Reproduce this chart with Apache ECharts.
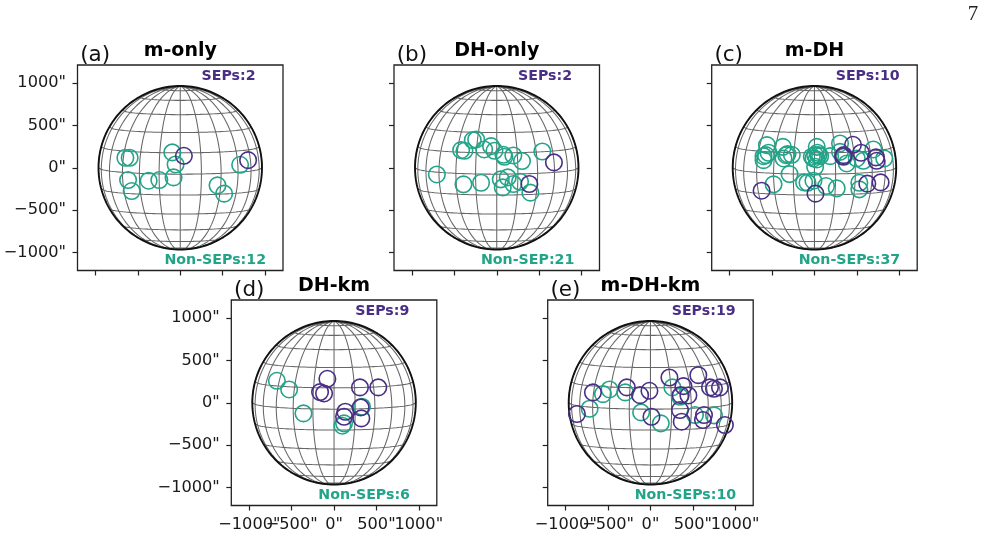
<!DOCTYPE html>
<html>
<head>
<meta charset="utf-8">
<style>html,body{margin:0;padding:0;background:#fff}#chart{width:984px;height:548px}</style>
<script src="https://cdn.jsdelivr.net/npm/echarts@6/dist/echarts.min.js"></script>
</head>
<body>
<div id="chart"></div>
<script>
// Heliographic positions of the flare sources, helioprojective arcseconds [x, y].
const panelLetters = ['(a)', '(b)', '(c)', '(d)', '(e)'];
const panelTitles = ['m-only', 'DH-only', 'm-DH', 'DH-km', 'm-DH-km'];
const sepLabels = ['SEPs:2', 'SEPs:2', 'SEPs:10', 'SEPs:9', 'SEPs:19'];
const nonSepLabels = ['Non-SEPs:12', 'Non-SEP:21', 'Non-SEPs:37', 'Non-SEPs:6', 'Non-SEPs:10'];
const tickValues = [-1000, -500, 0, 500, 1000];
const wideTickValues = [-1000, 0, 1000];
const narrowTickValues = [-500, 500];

const mOnlyNonSep = [[-648,118],[-597,118],[-616,-145],[-573,-275],[-373,-153],[-247,-145],[-79,-114],[-55,39],[-94,181],[440,-208],[518,-306],[707,35]];
const mOnlySep = [[43,141],[801,90]];

const dhOnlyNonSep = [[-707,-79],[-393,-196],[-185,-177],[-420,208],[-381,200],[-283,326],[-243,334],[-149,216],[-67,255],[-27,200],[79,153],[90,130],[196,145],[298,79],[538,192],[47,-137],[130,-114],[71,-232],[196,-192],[275,-165],[397,-294]];
const dhOnlySep = [[385,-192],[675,63]];

const mDhNonSep = [[-561,267],[-542,177],[-601,137],[-601,90],[-573,149],[-373,247],[-334,149],[-365,110],[-318,161],[-267,153],[-294,-75],[-483,-196],[-122,-173],[-82,-177],[-12,-153],[137,-216],[263,-243],[27,247],[35,177],[8,149],[47,149],[-12,110],[27,98],[8,12],[67,137],[185,137],[302,287],[302,188],[349,130],[381,51],[499,110],[577,82],[695,216],[824,110],[530,-177],[530,-255],[-31,130]];
const mDhSep = [[-624,-271],[12,-306],[338,133],[345,149],[455,271],[550,177],[726,122],[734,82],[624,-188],[781,-173]];

const dhKmNonSep = [[-675,259],[-530,157],[-361,-126],[98,-271],[118,-243],[330,-47]];
const dhKmSep = [[-79,283],[-165,126],[-118,110],[306,181],[522,181],[133,-106],[118,-165],[314,-55],[322,-185]];

const mDhKmNonSep = [[-718,-71],[-561,102],[-483,157],[-298,122],[-110,-114],[122,-243],[259,181],[349,71],[526,-145],[750,-149]];
const mDhKmSep = [[-868,-133],[-679,122],[-279,181],[-122,90],[-12,141],[224,298],[389,196],[357,90],[448,86],[565,326],[703,181],[750,165],[821,181],[349,-86],[369,-224],[12,-165],[632,-145],[620,-204],[879,-263]];

const nonSepSets = [mOnlyNonSep, dhOnlyNonSep, mDhNonSep, dhKmNonSep, mDhKmNonSep];
const sepSets = [mOnlySep, dhOnlySep, mDhSep, dhKmSep, mDhKmSep];

// Panel frames on the page.
const frameLeft = [77.5, 394, 711.7, 231.3, 547.7];
const frameTop = [65, 65, 65, 300, 300];
const frameSize = 205.5;
const axisExtent = 1213;
const showYLabels = [true, false, false, true, false];
const showXLabels = [false, false, false, true, true];

const TEAL = '#22a488';
const PURPLE = '#482e84';
const FRAME = '#222';
const FONT = '"DejaVu Sans"';

// Solar disc: radius in arcsec, and tilt of the rotation axis towards the viewer.
const SOLAR_RADIUS = 965;
const TILT = 4.5 * Math.PI / 180;

function project(latDeg, lonDeg) {
  const lat = latDeg * Math.PI / 180, lon = lonDeg * Math.PI / 180;
  const depth = Math.sin(TILT) * Math.sin(lat) + Math.cos(TILT) * Math.cos(lat) * Math.cos(lon);
  if (depth < 0) return [NaN, NaN];
  return [
    SOLAR_RADIUS * Math.cos(lat) * Math.sin(lon),
    SOLAR_RADIUS * (Math.cos(TILT) * Math.sin(lat) - Math.sin(TILT) * Math.cos(lat) * Math.cos(lon))
  ];
}

// 15-degree Stonyhurst graticule; NaN pairs break the polyline between curves.
function graticule() {
  const pts = [];
  for (let lat = -75; lat <= 75; lat += 15) {
    for (let lon = -130; lon <= 130; lon += 2) pts.push(project(lat, lon));
    pts.push([NaN, NaN]);
  }
  for (let lon = -90; lon <= 90; lon += 15) {
    for (let lat = -90; lat <= 90; lat += 2) pts.push(project(lat, lon));
    pts.push([NaN, NaN]);
  }
  return pts;
}

function limb() {
  const pts = [];
  for (let a = 0; a <= 360; a += 2) {
    const t = a * Math.PI / 180;
    pts.push([SOLAR_RADIUS * Math.cos(t), SOLAR_RADIUS * Math.sin(t)]);
  }
  return pts;
}

const arcsec = v => String(v).replace('-', '\u2212') + '"';
const gratPts = graticule();
const limbPts = limb();

const grids = [], xAxes = [], yAxes = [], series = [], texts = [];

function axis(kind, idx, showLabel, labelValues) {
  return {
    type: 'value', gridIndex: idx, min: -axisExtent, max: axisExtent,
    position: kind === 'x' ? 'bottom' : 'left',
    splitLine: { show: false }, minorTick: { show: false },
    axisLine: { show: false, onZero: false },
    axisTick: { show: true, customValues: tickValues, length: 5, inside: false, lineStyle: { color: FRAME, width: 1.2 } },
    axisLabel: {
      show: showLabel, customValues: labelValues, formatter: arcsec, hideOverlap: false,
      color: '#1a1a1a', fontFamily: FONT, fontSize: 16.2, margin: kind === 'x' ? 11.5 : 11.5
    }
  };
}

function addText(text, x, y, size, weight, color, align) {
  texts.push({
    type: 'text', silent: true, z: 50,
    style: { text, x, y, fill: color, textAlign: align, textVerticalAlign: 'middle', font: `${weight} ${size}px ${FONT}` }
  });
}

panelTitles.forEach((title, i) => {
  const left = frameLeft[i], top = frameTop[i];
  grids.push({ left, top, width: frameSize, height: frameSize, show: true, borderColor: FRAME, borderWidth: 1.3, backgroundColor: '#fff' });
  xAxes.push(axis('x', i, showXLabels[i], wideTickValues));
  yAxes.push(axis('y', i, showYLabels[i], tickValues));

  const line = (data, color, width, z) => ({
    type: 'line', xAxisIndex: i, yAxisIndex: i, data, showSymbol: false, symbol: 'none', connectNulls: false,
    lineStyle: { color, width }, z, silent: true, animation: false
  });
  const rings = (data, color, z) => ({
    type: 'scatter', xAxisIndex: i, yAxisIndex: i, data, symbol: 'circle', symbolSize: 16.5,
    itemStyle: { color: 'rgba(0,0,0,0)', borderColor: color, borderWidth: 1.6, opacity: 1 }, z, silent: true, animation: false, clip: false
  });
  series.push(line(gratPts, '#666', 1.05, 1));
  series.push(line(limbPts, '#111', 1.9, 2));
  series.push(rings(nonSepSets[i], TEAL, 3));
  series.push(rings(sepSets[i], PURPLE, 4));

  addText(panelLetters[i], left + 2.7, top - 9.5, 21.5, 'normal', '#111', 'left');
  addText(title, left + frameSize / 2, top - 14, 19, 'bold', '#000', 'center');
  addText(sepLabels[i], left + 124, top + 11, 14.2, 'bold', PURPLE, 'left');
  addText(nonSepLabels[i], left + 87, top + 195, 14.2, 'bold', TEAL, 'left');
});

// The ±500" labels touch their neighbours, so they sit on a second bottom axis of the same frame.
panelTitles.forEach((title, i) => {
  if (!showXLabels[i]) return;
  const extra = axis('x', i, true, narrowTickValues);
  extra.axisTick = { show: false };
  xAxes.push(extra);
});

texts.push({
  type: 'text', silent: true, z: 50,
  style: { text: '7', x: 973, y: 14, fill: '#222', textAlign: 'center', textVerticalAlign: 'middle', font: 'normal 21px "Liberation Serif"' }
});

const chart = echarts.init(document.getElementById('chart'), null, { renderer: 'canvas' });
chart.setOption({
  animation: false, backgroundColor: '#fff',
  grid: grids, xAxis: xAxes, yAxis: yAxes, series, graphic: { elements: texts }
});
</script>
</body>
</html>
